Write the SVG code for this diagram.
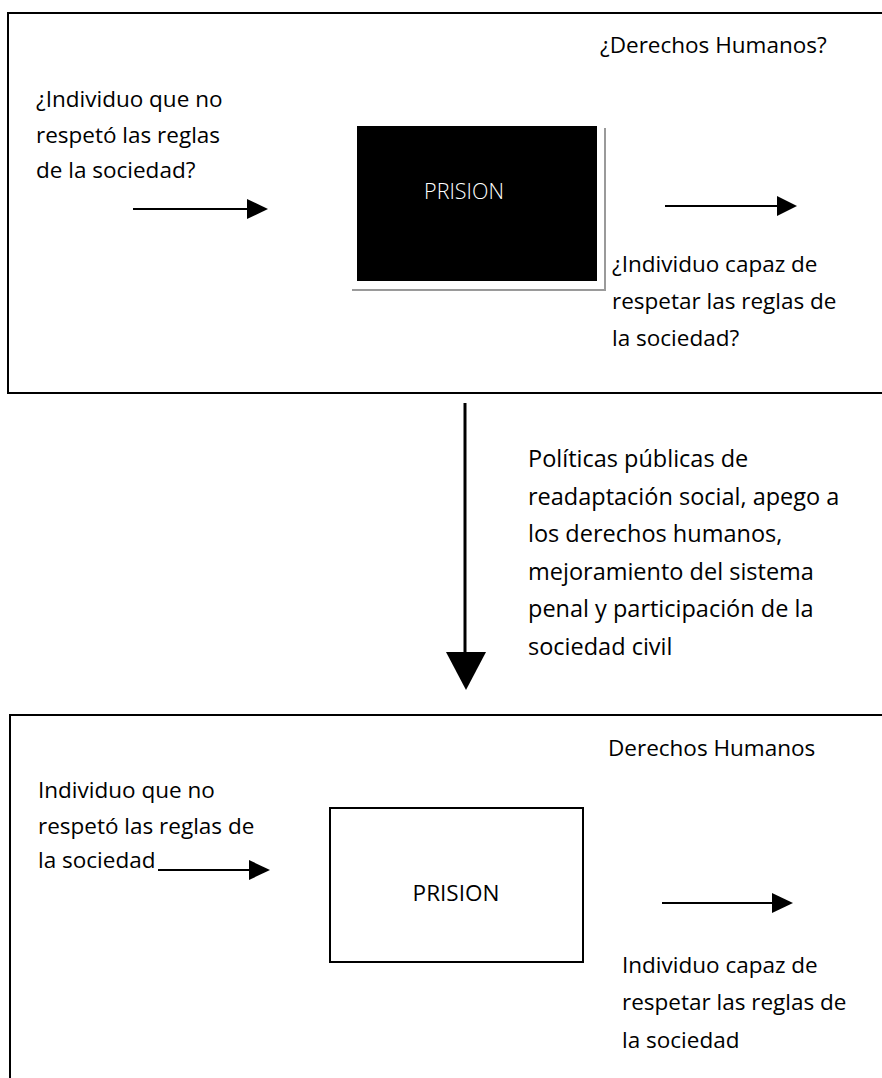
<svg xmlns="http://www.w3.org/2000/svg" width="882" height="1078" viewBox="0 0 882 1078">
<style>
.t{font-family:"Open Sans","Noto Sans",sans-serif;font-size:22.5px;fill:#000}
.p{font-size:23.5px}
.frame{fill:none;stroke:#000;stroke-width:2}
.ln{stroke:#000;stroke-width:2}
.head{fill:#000}
</style>
<rect x="0" y="0" width="882" height="1078" fill="#fff"/>
<g id="top-panel">
<rect class="frame" x="8" y="13" width="900" height="380"/>
<text class="t" x="600" y="53">¿Derechos Humanos?</text>
</g>
<g id="top-input">
<text class="t" x="36" y="107">¿Individuo que no</text>
<text class="t" x="36" y="143">respetó las reglas</text>
<text class="t" x="36" y="178">de la sociedad?</text>
</g>
<g id="top-prison">
<line x1="605" y1="128" x2="605" y2="291" stroke="#9a9a9a" stroke-width="2"/>
<line x1="352" y1="290" x2="606" y2="290" stroke="#9a9a9a" stroke-width="2"/>
<rect x="357" y="126" width="240" height="155" fill="#000"/>
<text x="464" y="199" text-anchor="middle" font-family="Open Sans, Noto Sans, sans-serif" font-weight="300" font-size="21.5" fill="#fff">PRISION</text>
</g>
<g id="top-output">
<text class="t" x="612" y="272">¿Individuo capaz de</text>
<text class="t" x="612" y="309">respetar las reglas de</text>
<text class="t" x="612" y="346">la sociedad?</text>
</g>
<g id="policies">
<text class="t p" x="528" y="467">Políticas públicas de</text>
<text class="t p" x="528" y="505">readaptación social, apego a</text>
<text class="t p" x="528" y="542">los derechos humanos,</text>
<text class="t p" x="528" y="580">mejoramiento del sistema</text>
<text class="t p" x="528" y="617">penal y participación de la</text>
<text class="t p" x="528" y="655">sociedad civil</text>
</g>
<g id="bottom-panel">
<rect class="frame" x="10" y="715" width="900" height="400"/>
<text class="t" x="608" y="756">Derechos Humanos</text>
</g>
<g id="bottom-input">
<text class="t" x="38" y="798">Individuo que no</text>
<text class="t" x="38" y="834">respetó las reglas de</text>
<text class="t" x="38" y="868">la sociedad</text>
</g>
<g id="bottom-prison">
<rect x="330" y="808" width="253" height="154" fill="#fff" stroke="#000" stroke-width="2"/>
<text class="t" x="456" y="901" text-anchor="middle">PRISION</text>
</g>
<g id="bottom-output">
<text class="t" x="622" y="973">Individuo capaz de</text>
<text class="t" x="622" y="1010">respetar las reglas de</text>
<text class="t" x="622" y="1048">la sociedad</text>
</g>
<g id="connectors">
<line class="ln" x1="133" y1="209" x2="248" y2="209"/>
<polygon class="head" points="247,199 268,209 247,219"/>
<line class="ln" x1="665" y1="206" x2="778" y2="206"/>
<polygon class="head" points="777,196 797,206 777,216"/>
<line x1="465" y1="403" x2="465" y2="655" stroke="#000" stroke-width="3"/>
<polygon class="head" points="446,652 486,652 466,690"/>
<line class="ln" x1="158" y1="870" x2="250" y2="870"/>
<polygon class="head" points="249,860 270,870 249,880"/>
<line class="ln" x1="662" y1="903" x2="773" y2="903"/>
<polygon class="head" points="772,893 793,903 772,913"/>
</g>
</svg>
